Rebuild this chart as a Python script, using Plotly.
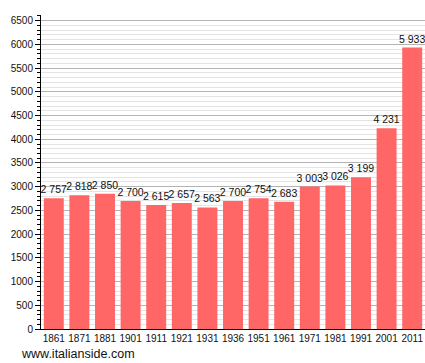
import plotly.graph_objects as go

years = ["1861", "1871", "1881", "1901", "1911", "1921", "1931", "1936",
         "1951", "1961", "1971", "1981", "1991", "2001", "2011"]
population = [2757, 2818, 2850, 2700, 2615, 2657, 2563, 2700,
              2754, 2683, 3003, 3026, 3199, 4231, 5933]
y_ticks = list(range(0, 6501, 500))

labels = [f"{v:,}".replace(",", " ") for v in population]

fig = go.Figure(go.Bar(
    x=years, y=population, text=labels, textposition="outside",
    constraintext="none",
    textfont=dict(family="Liberation Sans, Arial", size=10.5, color="#111"),
    marker=dict(color="#ff6666", line=dict(width=0)),
    cliponaxis=False, hoverinfo="skip",
))

fig.update_layout(
    width=425, height=363,
    margin=dict(l=41, r=0, t=15, b=34),
    paper_bgcolor="white", plot_bgcolor="white",
    bargap=0.22, showlegend=False,
    font=dict(family="Liberation Sans, Arial", size=10, color="#111"),
    xaxis=dict(type="category", showline=True, linecolor="black", linewidth=1,
               ticks="", showgrid=False, tickangle=0, tickfont=dict(size=10)),
    yaxis=dict(range=[0, 6620], tickvals=y_ticks, showline=True, linecolor="black",
               linewidth=1, ticks="outside", ticklen=5, tickcolor="black",
               gridcolor="#b4b4b4", gridwidth=1, zeroline=False,
               tickfont=dict(size=10),
               minor=dict(dtick=100, showgrid=True, gridcolor="#e4e4e4",
                          ticks="outside", ticklen=3, tickcolor="black")),
    annotations=[dict(text="www.italianside.com", xref="paper", yref="paper",
                      x=-22/384, y=-0.051, xanchor="left", yanchor="top",
                      showarrow=False, font=dict(size=12.5, color="#111"))],
)

fig.write_html("out.html")
